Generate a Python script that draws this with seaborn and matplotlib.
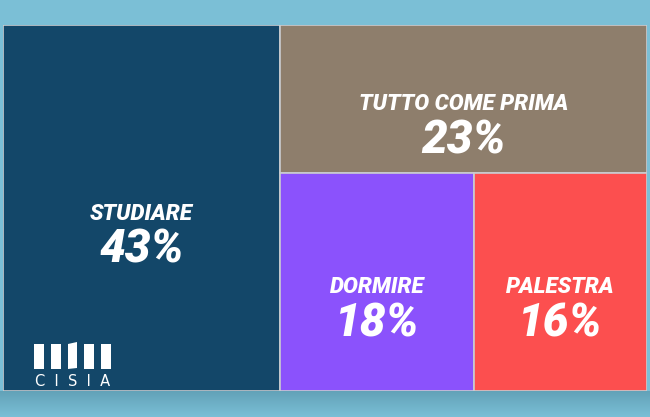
import numpy as np
import matplotlib.pyplot as plt
import matplotlib.patches as mpatches
import seaborn as sns

# Data
labels = ['STUDIARE', 'TUTTO COME PRIMA', 'DORMIRE', 'PALESTRA']
values = [43, 23, 18, 16]
colors = ['#134769', '#8e7e6c', '#8b52fc', '#fc4f4f']

sns.set_theme(style='white')
font = ['Roboto', 'DejaVu Sans']
bg = '#7bbfd6'


def layout(vals, x, y, w, h, vertical=True):
    # slice-and-dice: first item takes a full strip, the rest alternate
    if not vals:
        return []
    total = sum(vals)
    frac = vals[0] / total
    if len(vals) == 1:
        return [(x, y, w, h)]
    if vertical:
        r = (x, y, w * frac, h)
        rest = layout(vals[1:], x + w * frac, y, w * (1 - frac), h, False)
    else:
        r = (x, y + h * (1 - frac), w, h * frac)
        rest = layout(vals[1:], x, y, w, h * (1 - frac), True)
    return [r] + rest


fig = plt.figure(figsize=(6.5, 4.17), dpi=100)
fig.patch.set_facecolor(bg)

# soft shadow under the chart
sh = fig.add_axes([0, 0, 1, 26 / 417])
grad = np.linspace(0, 1, 50).reshape(-1, 1)
sh.imshow(grad, aspect='auto', cmap=sns.blend_palette(['#7bbfd6', '#62a2b8'], as_cmap=True),
          extent=[0, 1, 0, 1], origin='lower')
sh.axis('off')

ax = fig.add_axes([3 / 650, 26 / 417, 644 / 650, 366 / 417])
ax.set_xlim(0, 1)
ax.set_ylim(0, 1)
ax.axis('off')

rects = layout(values, 0, 0, 1, 1)
for (x, y, w, h), lab, v, c in zip(rects, labels, values, colors):
    ax.add_patch(mpatches.Rectangle((x, y), w, h, facecolor=c, edgecolor='#c9ccd0', linewidth=1.2))
    cx, cy = x + w / 2, y + h / 2
    ax.annotate(lab, (cx, cy), xytext=(0, -4), textcoords='offset points', ha='center', va='center',
                color='white', fontsize=16, fontweight='black', style='italic', family=font)
    ax.annotate(f'{v}%', (cx, cy), xytext=(0, -30), textcoords='offset points', ha='center', va='center',
                color='white', fontsize=33, fontweight='black', style='italic', family=font)

# CISIA logo
lg = fig.add_axes([34 / 650, 30 / 417, 78 / 650, 45 / 417])
lg.set_xlim(0, 78)
lg.set_ylim(0, 45)
lg.axis('off')
for bx in [0, 17, 50, 67]:
    lg.add_patch(mpatches.Rectangle((bx, 18), 10, 25, facecolor='white', edgecolor='none'))
lg.add_patch(mpatches.Polygon([(34, 18), (43, 19), (43, 45), (34, 43)], facecolor='white', edgecolor='none'))
lg.text(39, 6, 'C  I  S  I  A', ha='center', va='center', color='white', fontsize=10.5, family='DejaVu Sans')

fig.savefig('out.png', dpi=100, facecolor=bg)
